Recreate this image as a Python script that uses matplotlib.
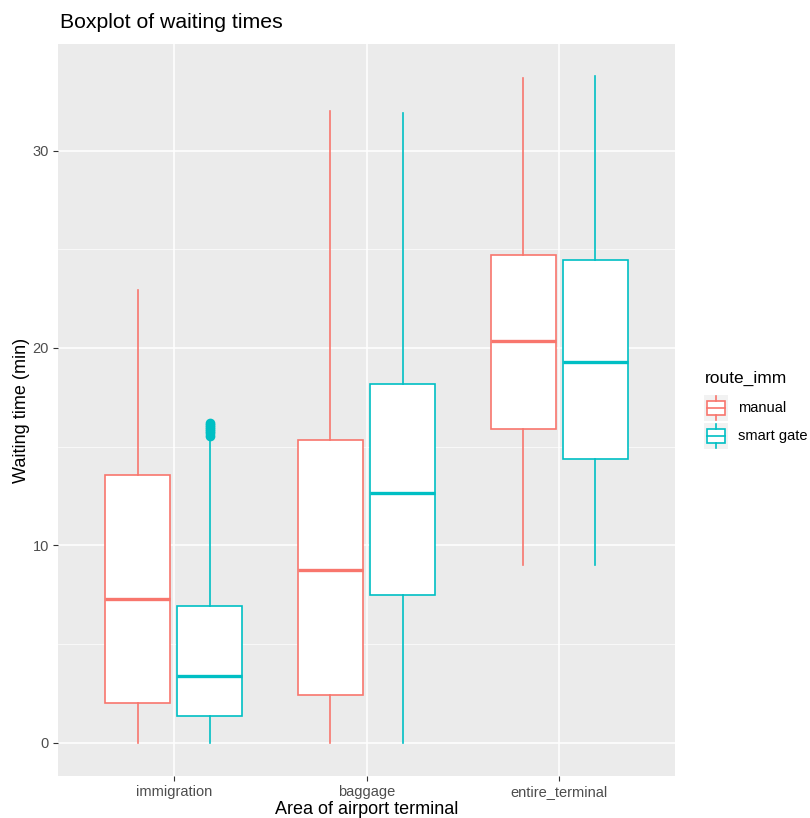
import matplotlib
matplotlib.use("Agg")
import matplotlib.pyplot as plt
from matplotlib.patches import Rectangle
from matplotlib.lines import Line2D

plt.rcParams['font.family'] = ['Liberation Sans', 'DejaVu Sans']

areas = ['immigration', 'baggage', 'entire_terminal']
routes = ['manual', 'smart gate']
colors = ['#F8766D', '#00BFC4']

# per area: (lower whisker, q1, median, q3, upper whisker) for manual, smart gate
manual_stats = [
    (0.0, 2.03, 7.26, 13.55, 22.94),
    (0.0, 2.44, 8.73, 15.33, 32.03),
    (8.98, 15.89, 20.36, 24.72, 33.70),
]
smart_stats = [
    (0.0, 1.37, 3.40, 6.95, 15.45),
    (0.0, 7.46, 12.64, 18.17, 31.88),
    (8.98, 14.37, 19.29, 24.47, 33.76),
]
smart_outliers = [[15.55, 15.7, 15.8, 15.9, 16.0, 16.1, 16.22], [], []]
manual_outliers = [[], [], []]

fig = plt.figure(figsize=(8.1, 8.18), dpi=100)
ax = fig.add_axes([58/810, 42/818, 617/810, 732/818])
ax.set_facecolor('#EBEBEB')

def make_stats(stats, outs):
    res = []
    for (lo, q1, med, q3, hi), o in zip(stats, outs):
        res.append(dict(whislo=lo, q1=q1, med=med, q3=q3, whishi=hi, fliers=o))
    return res

for k, (stats, outs) in enumerate([(manual_stats, manual_outliers), (smart_stats, smart_outliers)]):
    c = colors[k]
    pos = [i + 1 + (-0.1875 if k == 0 else 0.1875) for i in range(len(areas))]
    ax.bxp(make_stats(stats, outs), positions=pos, widths=0.3375, showcaps=False,
           patch_artist=True,
           boxprops=dict(facecolor='white', edgecolor=c, linewidth=1.2),
           whiskerprops=dict(color=c, linewidth=1.2),
           medianprops=dict(color=c, linewidth=2.4, solid_capstyle='butt'),
           flierprops=dict(marker='o', markerfacecolor=c, markeredgecolor=c, markersize=6),
           zorder=3)

ax.set_xlim(0.4, 3.6)
ax.set_ylim(-1.685, 35.4)
ax.set_xticks([1, 2, 3])
ax.set_xticklabels(areas)
ax.set_yticks([0, 10, 20, 30])
ax.set_yticks([5, 15, 25], minor=True)
ax.grid(which='major', color='white', linewidth=1.1, zorder=0)
ax.grid(which='minor', axis='y', color='white', linewidth=0.5, zorder=0)
ax.set_axisbelow(True)
for s in ax.spines.values():
    s.set_visible(False)
ax.tick_params(which='major', length=3.5, width=0.8, color='#333333', labelcolor='#4D4D4D',
               labelsize=10.5, pad=3)
ax.tick_params(which='minor', length=0)
ax.set_xlabel('Area of airport terminal', fontsize=13, color='black', labelpad=1.5)
ax.set_ylabel('Waiting time (min)', fontsize=13, color='black', labelpad=2)

fig.text(60/810, 1 - 22/818, 'Boxplot of waiting times', fontsize=15.3, va='center', ha='left')

# legend
fig.text(705/810, 1 - 378/818, 'route_imm', fontsize=12.5, va='center', ha='left')
for k, lab in enumerate(routes):
    yc = 408 + k * 28
    x0, x1 = 704, 728
    fig.patches.append(Rectangle((x0/810, 1 - (yc + 13)/818), (x1 - x0)/810, 26/818,
                                 transform=fig.transFigure, facecolor='#F2F2F2', edgecolor='none'))
    fig.patches.append(Rectangle((707/810, 1 - (yc + 7)/818), 18/810, 14/818,
                                 transform=fig.transFigure, facecolor='white',
                                 edgecolor=colors[k], linewidth=1.2))
    fig.lines.append(Line2D([716/810, 716/810], [1 - (yc - 12)/818, 1 - (yc - 7)/818],
                            transform=fig.transFigure, color=colors[k], linewidth=1.2))
    fig.lines.append(Line2D([716/810, 716/810], [1 - (yc + 7)/818, 1 - (yc + 12)/818],
                            transform=fig.transFigure, color=colors[k], linewidth=1.2))
    fig.lines.append(Line2D([707/810, 725/810], [1 - yc/818, 1 - yc/818],
                            transform=fig.transFigure, color=colors[k], linewidth=1.2))
    fig.text(738/810, 1 - yc/818, lab, fontsize=10.5, va='center', ha='left')

fig.savefig('out.png', dpi=100)
